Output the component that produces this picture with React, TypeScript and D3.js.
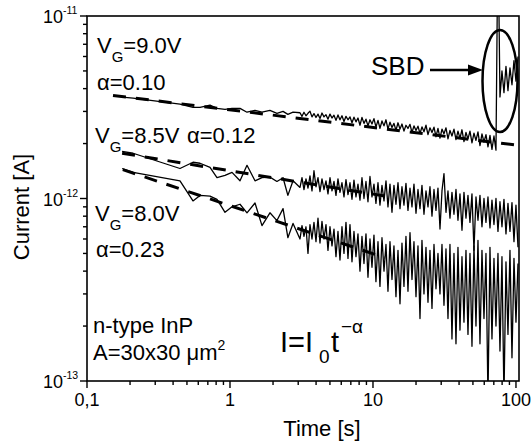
import React from 'react';
import * as d3 from 'd3';

// ---- data (time in s, current in pA) ----
const timeEarly = [0.176, 0.21, 0.447, 0.551, 0.617, 0.725, 0.811, 0.923, 1.033, 1.175, 1.315, 1.496, 1.674, 1.903, 2.13, 2.35, 2.54, 2.76];
const timeLate = [
  3.087, 3.188, 3.292, 3.4, 3.511, 3.626, 3.745, 3.867, 3.994, 4.125,
  4.26, 4.399, 4.543, 4.692, 4.845, 5.004, 5.168, 5.337, 5.511, 5.692,
  5.878, 6.07, 6.269, 6.474, 6.686, 6.905, 7.131, 7.364, 7.605, 7.854,
  8.111, 8.376, 8.65, 8.934, 9.226, 9.528, 9.84, 10.16, 10.49, 10.84,
  11.19, 11.56, 11.94, 12.33, 12.73, 13.15, 13.58, 14.02, 14.48, 14.96,
  15.45, 15.95, 16.47, 17.01, 17.57, 18.15, 18.74, 19.35, 19.99, 20.64,
  21.32, 22.01, 22.73, 23.48, 24.25, 25.04, 25.86, 26.71, 27.58, 28.48,
  29.42, 30.38, 31.37, 32.4, 33.46, 34.55, 35.68, 36.85, 38.06, 39.3,
  40.59, 41.92, 43.29, 44.71, 46.17, 47.68, 49.24, 50.85, 52.52, 54.24,
  56.01, 57.84, 59.74, 61.69, 63.71, 65.8, 67.95, 70.17, 72.47, 74.84,
  77.29, 79.82, 82.43, 85.13, 87.92, 90.8, 93.77, 96.84, 100.0, 103.3,
];
const times = [...timeEarly, ...timeLate];

const current90 = [
  3.59, 3.55, 3.29, 3.16, 3.16, 3.25, 3.12, 3.08, 3.12, 3.12, 2.97, 3.04, 2.97, 3.04, 2.93, 3.0, 2.89, 2.97,
  2.95, 2.82, 2.97, 2.84, 2.93, 3.01, 2.8, 2.92, 2.78, 2.9,
  2.74, 2.94, 2.8, 2.88, 2.72, 2.9, 2.76, 2.86, 2.68, 2.87,
  2.7, 2.84, 2.64, 2.82, 2.7, 2.8, 2.6, 2.79, 2.63, 2.76,
  2.52, 2.78, 2.58, 2.72, 2.5, 2.7, 2.56, 2.74, 2.46, 2.68,
  2.42, 2.66, 2.5, 2.7, 2.4, 2.62, 2.45, 2.58, 2.36, 2.6,
  2.4, 2.56, 2.34, 2.52, 2.42, 2.55, 2.3, 2.5, 2.36, 2.49,
  2.27, 2.47, 2.32, 2.52, 2.24, 2.44, 2.3, 2.46, 2.18, 2.42,
  2.14, 2.4, 2.26, 2.44, 2.12, 2.36, 2.2, 2.4, 2.1, 2.34,
  2.14, 2.38, 2.05, 2.3, 2.12, 2.34, 2.02, 2.28, 2.08, 2.32,
  1.95, 2.26, 2.04, 2.24, 1.92, 2.22, 1.86, 2.2, 1.84, 30,
  3.6, 5.0, 3.8, 5.3, 3.9, 5.2, 4.2, 5.7, 4.4, 6.0,
];
const current85 = [
  1.81, 1.77, 1.46, 1.58, 1.56, 1.48, 1.3, 1.34, 1.39, 1.25, 1.52, 1.25, 1.3, 1.31, 1.24, 1.3, 1.04, 1.25,
  1.15, 1.3, 1.12, 1.28, 1.14, 1.33, 1.1, 1.42, 1.16, 1.3,
  1.09, 1.28, 1.12, 1.25, 1.06, 1.3, 1.1, 1.24, 1.04, 1.28,
  1.08, 1.22, 1.02, 1.27, 1.05, 1.22, 0.99, 1.26, 1.02, 1.2,
  0.98, 1.3, 1.0, 1.24, 0.96, 1.32, 1.02, 1.2, 0.94, 1.22,
  0.92, 1.18, 0.97, 1.25, 0.9, 1.2, 0.84, 1.18, 0.93, 1.22,
  0.88, 1.16, 0.92, 1.21, 0.86, 1.14, 0.9, 1.2, 0.83, 1.12,
  0.88, 1.18, 0.82, 1.1, 0.9, 1.16, 0.8, 1.12, 0.86, 1.14,
  0.68, 1.1, 1.37, 0.84, 1.1, 0.78, 1.08, 0.82, 1.12, 0.76,
  1.06, 0.67, 1.08, 0.78, 1.04, 0.74, 1.06, 0.52, 1.02, 0.76,
  1.04, 0.7, 1.0, 0.74, 1.02, 0.69, 0.98, 0.72, 1.0, 0.66,
  0.96, 0.7, 0.99, 0.64, 0.94, 0.66, 0.95, 0.58, 0.92, 0.54,
];
const current80 = [
  1.46, 1.39, 1.25, 0.97, 1.04, 1.03, 0.99, 0.84, 0.9, 0.93, 0.835, 0.945, 0.71, 0.835, 0.757, 0.88, 0.61, 0.73,
  0.6, 0.71, 0.62, 0.7, 0.5, 0.72, 0.6, 0.74, 0.58, 0.78,
  0.57, 0.75, 0.6, 0.72, 0.52, 0.7, 0.55, 0.68, 0.48, 0.66,
  0.46, 0.7, 0.5, 0.74, 0.47, 0.72, 0.45, 0.66, 0.48, 0.64,
  0.4, 0.62, 0.44, 0.64, 0.37, 0.6, 0.42, 0.63, 0.35, 0.58,
  0.33, 0.61, 0.4, 0.56, 0.31, 0.58, 0.36, 0.55, 0.29, 0.52,
  0.265, 0.57, 0.33, 0.62, 0.31, 0.65, 0.36, 0.58, 0.29, 0.55,
  0.22, 0.59, 0.3, 0.54, 0.27, 0.52, 0.25, 0.56, 0.32, 0.5,
  0.3, 0.56, 0.26, 0.53, 0.22, 0.56, 0.17, 0.5, 0.16, 0.54,
  0.19, 0.48, 0.21, 0.52, 0.18, 0.5, 0.155, 0.55, 0.2, 0.59,
  0.16, 0.52, 0.22, 0.5, 0.08, 0.54, 0.17, 0.47, 0.2, 0.5,
  0.146, 0.48, 0.08, 0.45, 0.18, 0.52, 0.134, 0.47, 0.21, 0.44,
];

// power-law fits I = I0 t^-alpha, drawn between [t, I(pA)] end points
const fit90: [number, number][] = [[0.152, 3.67], [101.6, 1.96]];
const fit85: [number, number][] = [[0.176, 1.77], [12.7, 1.026]];
const fit80: [number, number][] = [[0.178, 1.44], [12.1, 0.474]];

const xTickValues = [0.1, 1, 10, 100];
const xTickLabels = ['0,1', '1', '10', '100'];
const yTickValues = [1e-13, 1e-12, 1e-11];
const yTickExponents = ['-13', '-12', '-11'];

const FONT = "'Liberation Sans', Arial, Helvetica, sans-serif";

export default function App() {
  const W = 531, H = 441;
  const L = 87, R = 519, T = 16, B = 381;
  const x = d3.scaleLog().domain([0.1, 105]).range([L, R]);
  const y = d3.scaleLog().domain([1e-13, 1e-11]).range([B, T]);

  const line = d3
    .line<[number, number]>()
    .x((d) => x(d[0]))
    .y((d) => y(d[1] * 1e-12));

  const series = [current90, current85, current80].map((arr) =>
    times.map((t, i) => [t, arr[i]] as [number, number])
  );
  const fits = [fit90, fit85, fit80];

  const xMinor = x.ticks().filter((v) => !xTickValues.some((m) => Math.abs(m - v) / m < 1e-6));
  const yMinor = y.ticks().filter((v) => !yTickValues.some((m) => Math.abs(m - v) / m < 1e-6));

  return (
    <svg width={W} height={H} style={{ position: 'absolute', left: 0, top: 0, background: '#fff' }} fontFamily={FONT}>
      <defs>
        <clipPath id="plot">
          <rect x={L} y={T} width={R - L} height={B - T} />
        </clipPath>
      </defs>
      <rect x={0} y={0} width={W} height={H} fill="#fff" />

      {/* data */}
      <g clipPath="url(#plot)">
        {series.map((s, i) => (
          <path key={i} d={line(s) || ''} fill="none" stroke="#000" strokeWidth={1.3} strokeLinejoin="round" />
        ))}
        {fits.map((f, i) => (
          <path key={'f' + i} d={line(f) || ''} fill="none" stroke="#000" strokeWidth={3} strokeDasharray="13,10" />
        ))}
      </g>

      {/* frame */}
      <rect x={L} y={T} width={R - L} height={B - T} fill="none" stroke="#000" strokeWidth={1.6} />

      {/* x ticks */}
      {xTickValues.map((v, i) => (
        <g key={'xt' + i}>
          <line x1={x(v)} x2={x(v)} y1={B} y2={B + 7} stroke="#000" strokeWidth={1.4} />
          <text x={x(v)} y={406} fontSize={18} textAnchor="middle">{xTickLabels[i]}</text>
        </g>
      ))}
      {xMinor.map((v, i) => (
        <line key={'xm' + i} x1={x(v)} x2={x(v)} y1={B} y2={B + 4} stroke="#000" strokeWidth={1.4} />
      ))}

      {/* y ticks */}
      {yTickValues.map((v, i) => (
        <g key={'yt' + i}>
          <line x1={L - 7} x2={L} y1={y(v)} y2={y(v)} stroke="#000" strokeWidth={1.4} />
          <text x={63} y={y(v) + 7} fontSize={18} textAnchor="end">10</text>
          <text x={63} y={y(v) - 2} fontSize={10.5}>{yTickExponents[i]}</text>
        </g>
      ))}
      {yMinor.map((v, i) => (
        <line key={'ym' + i} x1={L - 4} x2={L} y1={y(v)} y2={y(v)} stroke="#000" strokeWidth={1.4} />
      ))}

      {/* axis titles */}
      <text x={322} y={436} fontSize={22} textAnchor="middle">Time [s]</text>
      <text transform="translate(29,207) rotate(-90)" fontSize={22} textAnchor="middle">Current [A]</text>

      {/* annotations */}
      <g fontSize={22}>
        <text x={97} y={53}>V<tspan dy={8.5} fontSize={15}>G</tspan><tspan dy={-8.5}>=9.0V</tspan></text>
        <text x={97} y={90}>α=0.10</text>
        <text x={95} y={143}>V<tspan dy={8.5} fontSize={15}>G</tspan><tspan dy={-8.5}>=8.5V</tspan></text>
        <text x={187} y={143}>α=0.12</text>
        <text x={95} y={221}>V<tspan dy={8.5} fontSize={15}>G</tspan><tspan dy={-8.5}>=8.0V</tspan></text>
        <text x={96} y={257}>α=0.23</text>
        <text x={93} y={333}>n-type InP</text>
        <text x={93} y={360}>A=30x30 μm<tspan dy={-10} fontSize={14}>2</tspan></text>
      </g>

      {/* formula */}
      <g>
        <text x={280} y={352} fontSize={29}>I=I</text>
        <text x={319} y={363} fontSize={19}>0</text>
        <text x={331} y={352} fontSize={29}>t</text>
        <text x={341} y={333} fontSize={19}>−α</text>
      </g>

      {/* SBD marker */}
      <ellipse cx={500} cy={81} rx={17.5} ry={51} fill="none" stroke="#000" strokeWidth={2.5} />
      <text x={371} y={75} fontSize={26}>SBD</text>
      <line x1={430} x2={470} y1={70} y2={70} stroke="#000" strokeWidth={2.5} />
      <path d="M468,64.5 L483,70 L468,75.5 Z" fill="#000" />
    </svg>
  );
}
